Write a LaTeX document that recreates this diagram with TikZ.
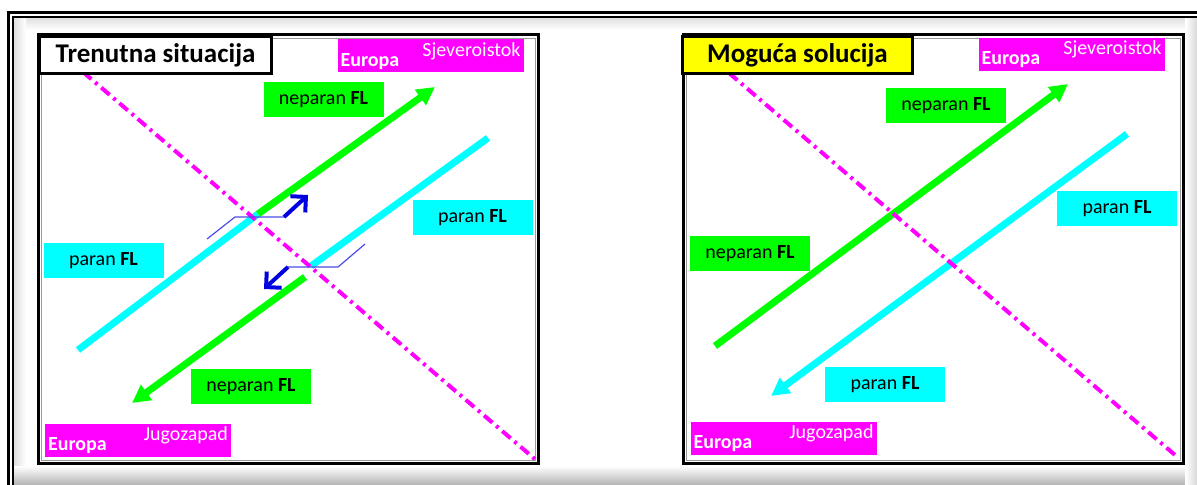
\documentclass[tikz,border=0pt]{standalone}
\usepackage{fontspec}
\setmainfont{Carlito}
\usetikzlibrary{arrows.meta}

\definecolor{flgreen}{RGB}{0,255,0}
\definecolor{flcyan}{RGB}{0,255,255}
\definecolor{flmagenta}{RGB}{255,0,255}
\definecolor{flyellow}{RGB}{255,255,0}
\definecolor{flblue}{RGB}{0,0,225}

\begin{document}
\begin{tikzpicture}[x=0.5pt, y=-0.5pt,
	track/.style={line width=3.5pt},
	trackarrow/.style={line width=3.5pt, -{Triangle[length=9pt,width=9pt]}},
	boundary/.style={flmagenta, line width=2pt, dash pattern=on 5.5pt off 2.5pt on 1.5pt off 2.5pt},
	level/.style={minimum width=60pt, minimum height=17.5pt, inner sep=0pt, font=\fontsize{10}{12}\selectfont},
	region/.style={fill=flmagenta, minimum width=93pt, minimum height=16.5pt, inner sep=0pt},
	regiontext/.style={text=white, inner sep=1.5pt, font=\fontsize{10}{12}\selectfont},
	panel/.style={draw, line width=1.5pt},
	titlebox/.style={draw, line width=1.5pt, anchor=north west, inner sep=0pt, minimum height=18.5pt, font=\bfseries\fontsize{13.5}{16}\selectfont},
	turn/.style={flblue, line width=2pt, -{Straight Barb[length=5.5pt,width=11pt]}},
	lead/.style={flblue!70, line width=0.6pt}]
	\useasboundingbox (0,0) rectangle (1197,485);
	% outer frame
	\shade[top color=black!12, bottom color=white] (14,18) rectangle (1197,30);
	\shade[left color=black!12, right color=white] (14,18) rectangle (26,485);
	\shade[top color=white, bottom color=black!30] (14,466) rectangle (1197,485);
	\shade[left color=white, right color=black!15] (1185,18) rectangle (1197,485);
	\fill[white] (26,30) rectangle (1185,466);
	\draw[line width=1.5pt] (8.5,485) -- (8.5,12.5) -- (1197,12.5);
	\draw[line width=0.8pt] (13,485) -- (13,17) -- (1197,17);

	% left panel: Trenutna situacija
	\draw[panel] (38,35) rectangle (538,463);
	\draw[black!40, line width=0.4pt] (41,38) rectangle (535,460);
	\coordinate (cA) at (78,350);
	\coordinate (xA) at (258,214);
	\coordinate (gA) at (435,87);
	\coordinate (cB) at (488,138);
	\coordinate (xB) at (311,266);
	\coordinate (gB) at (305,277);
	\coordinate (gB2) at (132,403);
	\draw[track, flcyan] (cA)--(xA);
	\draw[trackarrow, flgreen] (xA)--(gA);
	\draw[track, flcyan] (cB)--(xB);
	\draw[trackarrow, flgreen] (gB)--(gB2);
	\coordinate (dL1) at (83,72);
	\coordinate (dL2) at (536,460);
	\draw[boundary] (dL1)--(dL2);
	% turning directions
	\coordinate (tA1) at (207,239);
	\coordinate (tA2) at (235,217);
	\coordinate (tA3) at (284,217);
	\coordinate (tA4) at (308,195);
	\draw[lead] (tA1)--(tA2)--(tA3);
	\draw[turn] (tA3)--(tA4);
	\coordinate (tB1) at (365,244);
	\coordinate (tB2) at (338,267);
	\coordinate (tB3) at (288,267);
	\coordinate (tB4) at (264,289);
	\draw[lead] (tB1)--(tB2)--(tB3);
	\draw[turn] (tB3)--(tB4);
	% labels
	\node[level, fill=flgreen] (neL1) at (323.5,100) {neparan \textbf{FL}};
	\node[level, fill=flcyan] (paL1) at (472.5,217.5) {paran \textbf{FL}};
	\node[level, fill=flcyan] (paL2) at (103.5,261) {paran \textbf{FL}};
	\node[level, fill=flgreen] (neL2) at (251,386.5) {neparan \textbf{FL}};
	\node[region] (seL) at (430.5,56) {};
	\node[regiontext, anchor=south west, font=\bfseries\fontsize{10}{12}\selectfont] (seLa) at (seL.south west) {Europa};
	\node[regiontext, anchor=north east] (seLb) at (seL.north east) {Sjeveroistok};
	\node[region] (jzL) at (138,440) {};
	\node[regiontext, anchor=south west, font=\bfseries\fontsize{10}{12}\selectfont] (jzLa) at (jzL.south west) {Europa};
	\node[regiontext, anchor=north east] (jzLb) at (jzL.north east) {Jugozapad};
	\node[titlebox, fill=white, minimum width=116pt] (tL) at (38,35) {Trenutna situacija};

	% right panel: Moguca solucija
	\draw[panel] (683,35) rectangle (1183,463);
	\draw[black!40, line width=0.4pt] (686,38) rectangle (1180,460);
	\coordinate (gR1) at (715,346);
	\coordinate (gR2) at (1068,84);
	\coordinate (cR1) at (1127,134);
	\coordinate (cR2) at (771,396);
	\draw[trackarrow, flgreen] (gR1)--(gR2);
	\draw[trackarrow, flcyan] (cR1)--(cR2);
	\coordinate (dR1) at (729,73);
	\coordinate (dR2) at (1175,455);
	\draw[boundary] (dR1)--(dR2);
	% labels
	\node[level, fill=flgreen] (neR1) at (946,105.5) {neparan \textbf{FL}};
	\node[level, fill=flcyan] (paR1) at (1117,208.5) {paran \textbf{FL}};
	\node[level, fill=flgreen] (neR2) at (750,254) {neparan \textbf{FL}};
	\node[level, fill=flcyan] (paR2) at (885,384.5) {paran \textbf{FL}};
	\node[region] (seR) at (1071.5,54.5) {};
	\node[regiontext, anchor=south west, font=\bfseries\fontsize{10}{12}\selectfont] (seRa) at (seR.south west) {Europa};
	\node[regiontext, anchor=north east] (seRb) at (seR.north east) {Sjeveroistok};
	\node[region] (jzR) at (783.5,438.5) {};
	\node[regiontext, anchor=south west, font=\bfseries\fontsize{10}{12}\selectfont] (jzRa) at (jzR.south west) {Europa};
	\node[regiontext, anchor=north east] (jzRb) at (jzR.north east) {Jugozapad};
	\node[titlebox, fill=flyellow, minimum width=115pt] (tR) at (681,35) {Moguća solucija};
\end{tikzpicture}
\end{document}
